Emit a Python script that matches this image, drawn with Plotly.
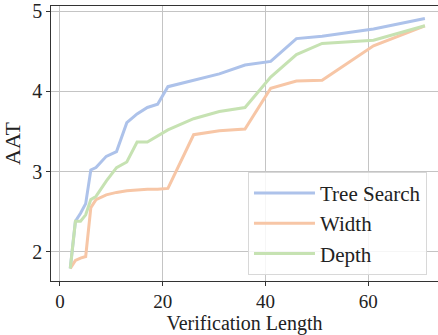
import plotly.graph_objects as go

x_len = [2, 3, 4, 5, 6, 7, 9, 11, 13, 15, 17, 19, 21, 26, 31, 36, 41, 46, 51, 61, 71]
tree_search = [1.79, 2.38, 2.48, 2.60, 3.02, 3.05, 3.19, 3.25, 3.61, 3.72, 3.80, 3.84, 4.06, 4.14, 4.22, 4.33, 4.375, 4.66, 4.69, 4.78, 4.91]
width = [1.79, 1.89, 1.92, 1.94, 2.55, 2.65, 2.71, 2.74, 2.76, 2.77, 2.78, 2.78, 2.79, 3.46, 3.51, 3.53, 4.04, 4.13, 4.14, 4.57, 4.82]
depth = [1.79, 2.38, 2.38, 2.46, 2.65, 2.69, 2.88, 3.05, 3.12, 3.37, 3.37, 3.45, 3.52, 3.66, 3.75, 3.80, 4.18, 4.46, 4.60, 4.64, 4.82]

series = [("Tree Search", tree_search, "#adc2ea"),
          ("Width", width, "#f7c6a6"),
          ("Depth", depth, "#c6e2b2")]

font_family = "Liberation Serif, Times New Roman, serif"

fig = go.Figure()
for name, ys, color in series:
    fig.add_trace(go.Scatter(x=x_len, y=ys, mode="lines", name=name,
                             line=dict(color=color, width=3)))

fig.update_layout(
    width=438, height=335,
    margin=dict(l=51, r=0, t=5, b=53),
    plot_bgcolor="white", paper_bgcolor="white",
    font=dict(family=font_family, size=20, color="#222222"),
    showlegend=True,
    legend=dict(x=0.509, y=0.397, xanchor="left", yanchor="top",
                bgcolor="rgba(255,255,255,0.85)", bordercolor="#d8d8d8", borderwidth=1,
                font=dict(family=font_family, size=21, color="#222222"),
                itemwidth=61),
)
fig.update_xaxes(
    range=[-1.75, 73.55], tickvals=[0, 20, 40, 60],
    showgrid=True, gridcolor="#c4c4c4", gridwidth=1,
    showline=True, linecolor="#333333", linewidth=1.3, mirror=True,
    ticks="outside", ticklen=3.5, tickcolor="#333333",
    tickfont=dict(size=19), zeroline=False,
    title=dict(text="Verification Length", font=dict(size=20), standoff=9),
)
fig.update_yaxes(
    range=[1.634, 5.067], tickvals=[2, 3, 4, 5],
    showgrid=True, gridcolor="#c4c4c4", gridwidth=1,
    showline=True, linecolor="#333333", linewidth=1.3, mirror=False,
    ticks="outside", ticklen=3.5, tickcolor="#333333",
    tickfont=dict(size=20), zeroline=False, ticklabeloverflow="allow",
    title=dict(text="AAT", font=dict(size=22), standoff=6),
)

fig.write_html("out.html")
